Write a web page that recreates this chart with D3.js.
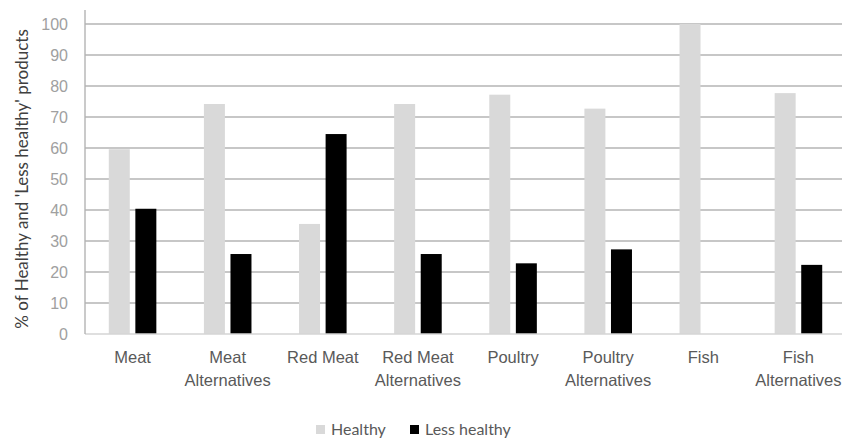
<!DOCTYPE html>
<html>
<head>
<meta charset="utf-8">
<script src="https://cdn.jsdelivr.net/npm/d3@7"></script>
<style>
  html, body { margin: 0; padding: 0; background: #fff; }
  svg { display: block; font-family: Lato, "Open Sans", sans-serif; }
</style>
</head>
<body>
<svg id="chart" width="842" height="439"></svg>
<script>
// Product categories (two-line labels split on "\n")
const categories = [
  "Meat", "Meat\nAlternatives", "Red Meat", "Red Meat\nAlternatives",
  "Poultry", "Poultry\nAlternatives", "Fish", "Fish\nAlternatives"
];
// Share of products in each group (%)
const healthy     = [59.6, 74.2, 35.5, 74.2, 77.2, 72.7, 100, 77.7];
const lessHealthy = [40.4, 25.8, 64.5, 25.8, 22.8, 27.3, 0, 22.3];
const seriesNames = ["Healthy", "Less healthy"];
const seriesColors = ["#d9d9d9", "#000000"];
const yTicks = [0, 10, 20, 30, 40, 50, 60, 70, 80, 90, 100];

const svg = d3.select("#chart");
const plotLeft = 85, plotRight = 846, plotTop = 24, plotBottom = 334;

const x = d3.scaleBand().domain(categories).range([plotLeft, plotRight]).paddingInner(0).paddingOuter(0);
const groupWidth = x.bandwidth() * 0.5;
const xSub = d3.scaleBand().domain(seriesNames).range([0, groupWidth]).paddingInner(0.21);
const y = d3.scaleLinear().domain([0, 100]).range([plotBottom, plotTop]);

// Horizontal gridlines
svg.append("g")
  .selectAll("line")
  .data(yTicks.filter(d => d > 0))
  .join("line")
  .attr("x1", plotLeft).attr("x2", 842)
  .attr("y1", d => y(d)).attr("y2", d => y(d))
  .attr("stroke", "#b4b4b4").attr("stroke-width", 1.4);

// Bars
const rows = categories.map((c, i) => ({ cat: c, values: [healthy[i], lessHealthy[i]] }));
const groups = svg.append("g").selectAll("g")
  .data(rows).join("g")
  .attr("transform", d => `translate(${x(d.cat) + (x.bandwidth() - groupWidth) / 2},0)`);
groups.selectAll("rect")
  .data(d => d.values.map((v, j) => ({ name: seriesNames[j], v, color: seriesColors[j] })))
  .join("rect")
  .attr("x", d => xSub(d.name))
  .attr("width", xSub.bandwidth())
  .attr("y", d => y(d.v))
  .attr("height", d => y(0) - y(d.v))
  .attr("fill", d => d.color);

// Baseline
svg.append("line")
  .attr("x1", plotLeft).attr("x2", 842)
  .attr("y1", y(0)).attr("y2", y(0))
  .attr("stroke", "#d4d4d4").attr("stroke-width", 1.4);

// Y axis
const yAxis = svg.append("g")
  .attr("transform", `translate(${plotLeft},0)`)
  .call(d3.axisLeft(y).tickValues(yTicks).tickSize(0).tickPadding(17));
yAxis.select(".domain").remove();
yAxis.selectAll("text")
  .attr("fill", "#a0a0a0").style("font-size", "16px");
svg.append("line")
  .attr("x1", plotLeft).attr("x2", plotLeft)
  .attr("y1", 10).attr("y2", plotBottom)
  .attr("stroke", "#b4b4b4").attr("stroke-width", 1.4);

// X axis labels
const xAxis = svg.append("g")
  .attr("transform", `translate(0,${plotBottom})`)
  .call(d3.axisBottom(x).tickSize(0).tickFormat(""));
xAxis.select(".domain").remove();
xAxis.selectAll(".tick")
  .append("text")
  .attr("text-anchor", "middle")
  .attr("fill", "#595959")
  .style("font-size", "16.5px")
  .selectAll("tspan")
  .data(d => d.split("\n"))
  .join("tspan")
  .attr("x", 0)
  .attr("y", (d, i) => 29 + i * 23)
  .text(d => d);

// Y axis title
svg.append("text")
  .attr("transform", `translate(28,179) rotate(-90)`)
  .attr("text-anchor", "middle")
  .attr("fill", "#404040")
  .style("font-size", "17px")
  .text("% of Healthy and 'Less healthy' products");

// Legend
const legendItems = [
  { name: seriesNames[0], color: seriesColors[0], x: 316 },
  { name: seriesNames[1], color: seriesColors[1], x: 410 }
];
const lg = svg.append("g").selectAll("g").data(legendItems).join("g")
  .attr("transform", d => `translate(${d.x},0)`);
lg.append("rect")
  .attr("x", 0).attr("y", 425).attr("width", 9).attr("height", 9)
  .attr("fill", d => d.color);
lg.append("text")
  .attr("x", 15).attr("y", 434.5)
  .attr("fill", "#595959")
  .style("font-size", "16px")
  .text(d => d.name);
</script>
</body>
</html>
